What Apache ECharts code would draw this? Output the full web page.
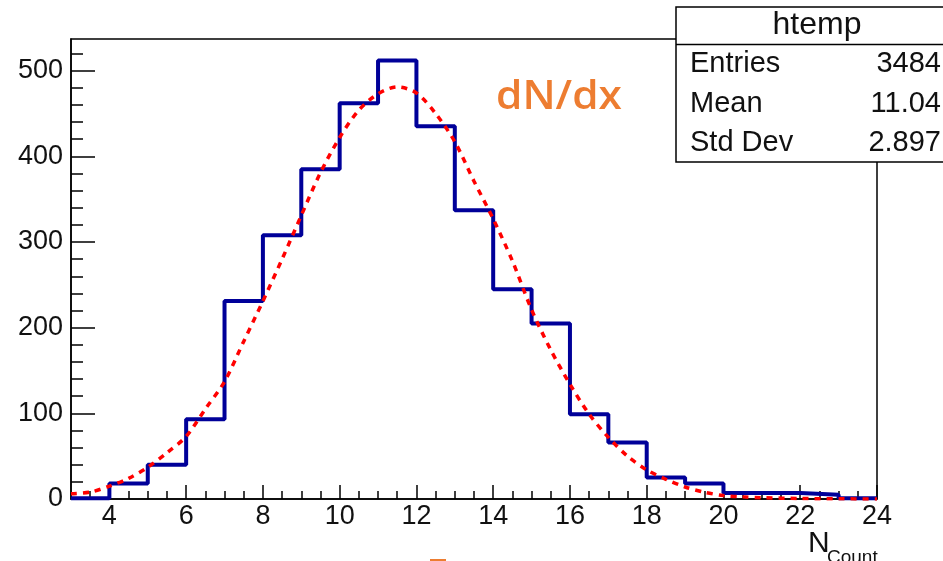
<!DOCTYPE html>
<html>
<head>
<meta charset="utf-8">
<script src="https://cdn.jsdelivr.net/npm/echarts@6/dist/echarts.min.js"></script>
<style>
html,body{margin:0;padding:0;background:#fff;}
#chart{width:943px;height:561px;}
</style>
</head>
<body>
<div id="chart"></div>
<script>
// Histogram bins (lower edges, width 1) and counts
const binLow = [3,4,5,6,7,8,9,10,11,12,13,14,15,16,17,18,19,20,21,22,23];
const binWidth = 1;
const counts = [1,18,40,93,231,308,385,462,512,435,337,245,205,99,66,25,18,7,7,5,1];

// Fitted curve
const fitX = [3,3.5,4,4.5,5,5.5,6,6.5,7,7.5,8,8.5,9,9.5,10,10.5,11,11.5,12,12.5,13,13.5,14,14.5,15,15.5,16,16.5,17,17.5,18,18.5,19,19.5,20,20.5,21,22,23,24];
const fitY = [6,8,15,24,37,54,73,105,137,184,231,280,331,381,422,454,473,481,474,450,417,371,327,278,221,174,134,99,72,50,34,23,14,8,4,2.5,1.5,0.6,0.2,0.1];

// Axis ticks
const xMajor = [4,6,8,10,12,14,16,18,20,22,24];
const xMinor = [3.5,4.5,5,5.5,6.5,7,7.5,8.5,9,9.5,10.5,11,11.5,12.5,13,13.5,14.5,15,15.5,16.5,17,17.5,18.5,19,19.5,20.5,21,21.5,22.5,23,23.5];
const yMajor = [0,100,200,300,400,500];
const yMinor = [20,40,60,80,120,140,160,180,220,240,260,280,320,340,360,380,420,440,460,480,520];

// Stats box
const statsTitle = 'htemp';
const statsNames = ['Entries','Mean','Std Dev'];
const statsValues = ['3484','11.04','2.897'];

const histData = binLow.map((x,i)=>[x,counts[i]]);
histData.push([binLow[binLow.length-1]+binWidth, counts[counts.length-1]]);
const fitData = fitX.map((x,i)=>[x,fitY[i]]);

const FONT = 'Liberation Sans, Arial, Helvetica, sans-serif';
const chart = echarts.init(document.getElementById('chart'), null, {renderer:'canvas'});

const statsGraphics = [
  {type:'rect', z:100, shape:{x:676, y:7, width:300, height:155}, style:{fill:'#fff', stroke:'#000', lineWidth:1.5}},
  {type:'line', z:101, shape:{x1:676, y1:44.5, x2:943, y2:44.5}, style:{stroke:'#000', lineWidth:1.5}},
  {type:'text', z:102, x:817, y:25, style:{text:statsTitle, font:'32px '+FONT, fill:'#111', textAlign:'center', textVerticalAlign:'middle'}}
];
const rowY = [64,104,143];
statsNames.forEach((n,i)=>{
  statsGraphics.push({type:'text', z:102, x:690, y:rowY[i], style:{text:n, font:'29px '+FONT, fill:'#111', textAlign:'left', textVerticalAlign:'middle'}});
  statsGraphics.push({type:'text', z:102, x:941, y:rowY[i], style:{text:statsValues[i], font:'29px '+FONT, fill:'#111', textAlign:'right', textVerticalAlign:'middle'}});
});

const option = {
  animation:false,
  backgroundColor:'#fff',
  grid:{left:71, right:66, top:39, bottom:62, show:true, borderColor:'#000', borderWidth:1.5, backgroundColor:'transparent'},
  xAxis:[
    {type:'value', min:3, max:24, position:'bottom',
     axisLine:{show:true, onZero:false, lineStyle:{color:'#000', width:1.5}},
     axisTick:{show:true, inside:true, length:14, customValues:xMajor, lineStyle:{color:'#000', width:1.5}},
     axisLabel:{show:true, customValues:xMajor, color:'#111', fontSize:27, fontFamily:FONT, margin:4},
     splitLine:{show:false}},
    {type:'value', min:3, max:24, position:'bottom',
     axisLine:{show:false},
     axisTick:{show:true, inside:true, length:8, customValues:xMinor, lineStyle:{color:'#000', width:1.5}},
     axisLabel:{show:false},
     splitLine:{show:false}}
  ],
  yAxis:[
    {type:'value', min:0, max:537, position:'left',
     axisLine:{show:true, onZero:false, lineStyle:{color:'#000', width:1.5}},
     axisTick:{show:true, inside:true, length:24, customValues:yMajor, lineStyle:{color:'#000', width:1.5}},
     axisLabel:{show:true, customValues:yMajor, color:'#111', fontSize:27, fontFamily:FONT, margin:8},
     splitLine:{show:false}},
    {type:'value', min:0, max:537, position:'left',
     axisLine:{show:false},
     axisTick:{show:true, inside:true, length:12, customValues:yMinor, lineStyle:{color:'#000', width:1.5}},
     axisLabel:{show:false},
     splitLine:{show:false}}
  ],
  series:[
    {type:'line', name:'htemp', xAxisIndex:0, yAxisIndex:0, step:'end', data:histData, symbol:'none',
     lineStyle:{color:'#000099', width:4}, z:2},
    {type:'line', name:'fit', xAxisIndex:0, yAxisIndex:0, smooth:0.3, data:fitData, symbol:'none',
     lineStyle:{color:'#ff0000', width:3.5, type:[6,6]}, z:3}
  ],
  graphic:[
    {type:'text', z:50, x:496, y:98, scaleX:1.06, style:{text:'dN/dx', font:'600 40px "Open Sans", "Noto Sans", sans-serif', fill:'#ED7D31', textAlign:'left', textVerticalAlign:'middle'}},
    {type:'rect', z:50, shape:{x:430, y:559, width:16, height:3}, style:{fill:'#ED7D31'}},
    {type:'text', z:50, x:808, y:544, style:{text:'N', font:'30px '+FONT, fill:'#111', textAlign:'left', textVerticalAlign:'middle'}},
    {type:'text', z:50, x:827, y:558, style:{text:'Count', font:'19px '+FONT, fill:'#111', textAlign:'left', textVerticalAlign:'middle'}}
  ].concat(statsGraphics)
};
chart.setOption(option);
</script>
</body>
</html>
